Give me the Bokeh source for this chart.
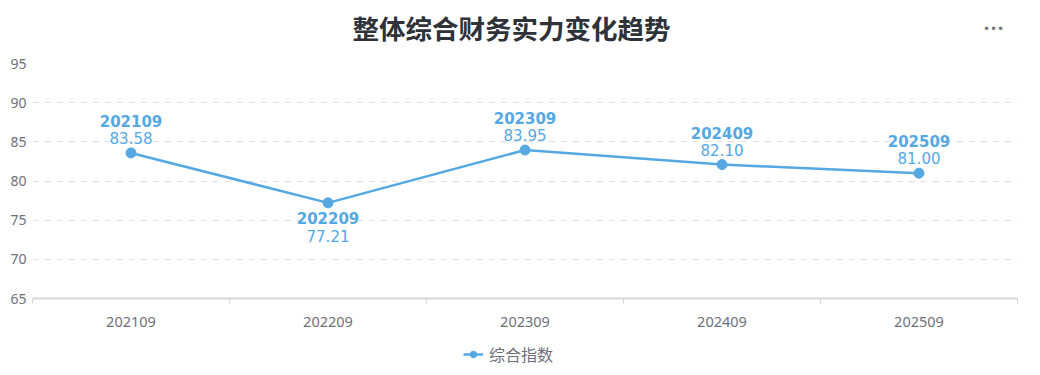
from bokeh.plotting import figure
from bokeh.layouts import column
from bokeh.models import (Range1d, FixedTicker, Label, Legend, LegendItem,
                          ColumnDataSource)
from bokeh.core.properties import value
from bokeh.embed import file_html
from bokeh.resources import INLINE

# ---- data ----
periods = ["202109", "202209", "202309", "202409", "202509"]
scores = [83.58, 77.21, 83.95, 82.10, 81.00]
y_ticks = [65, 70, 75, 80, 85, 90, 95]
title_text = "整体综合财务实力变化趋势"
series_name = "综合指数"

BLUE = "#55a8e2"
GRAY_TXT = "#6e7079"
W = 1032

xs = [i + 0.5 for i in range(len(periods))]
below = []
for i, v in enumerate(scores):
    left = scores[i - 1] if i > 0 else None
    right = scores[i + 1] if i < len(scores) - 1 else None
    below.append(left is not None and right is not None and v < left and v < right)

name_off = [15 if b else -32 for b in below]
val_off = [33 if b else -15 for b in below]

src = ColumnDataSource(dict(
    x=xs, y=scores, name=periods,
    val=["%.2f" % v for v in scores],
    name_off=name_off, val_off=val_off,
))

p = figure(width=W, height=338, output_backend="svg", toolbar_location=None,
           x_range=Range1d(0, len(periods)), y_range=Range1d(65, 95),
           min_border_left=32, min_border_right=W - 1017, min_border_top=63,
           min_border_bottom=40)
p.outline_line_color = None
p.background_fill_color = "white"
p.border_fill_color = "white"

p.title.text = title_text
p.title.align = "left"
p.title.offset = 320
p.title.text_font = "Noto Sans CJK SC"
p.title.text_font_style = "bold"
p.title.text_font_size = "26.5px"
p.title.text_color = "#2f3238"
p.title.standoff = 6

# axes
p.yaxis.ticker = FixedTicker(ticks=y_ticks)
p.yaxis.axis_line_color = None
p.yaxis.major_tick_line_color = None
p.yaxis.minor_tick_line_color = None
p.yaxis.major_label_text_color = GRAY_TXT
p.yaxis.major_label_text_font = "Noto Sans"
p.yaxis.major_label_text_font_size = "14px"
p.yaxis.major_label_standoff = 0

p.xaxis.ticker = FixedTicker(ticks=xs, minor_ticks=list(range(len(periods) + 1)))
p.xaxis.major_label_overrides = {x: n for x, n in zip(xs, periods)}
p.xaxis.axis_line_color = "#d8d8d8"
p.xaxis.axis_line_width = 2
p.xaxis.major_tick_line_color = None
p.xaxis.minor_tick_line_color = "#d8d8d8"
p.xaxis.minor_tick_out = 5
p.xaxis.minor_tick_in = 0
p.xaxis.major_label_text_color = GRAY_TXT
p.xaxis.major_label_text_font = "Noto Sans"
p.xaxis.major_label_text_font_size = "14.5px"
p.xaxis.major_label_standoff = 12

p.xgrid.grid_line_color = None
p.ygrid.grid_line_color = "#e0e0e0"
p.ygrid.grid_line_dash = "6 6"
p.ygrid.grid_line_width = 1

# series
ln = p.line("x", "y", source=src, line_color=BLUE, line_width=2.5)
sc = p.scatter("x", "y", source=src, size=10, fill_color=BLUE, line_color=BLUE)

p.text("x", "y", text="name", source=src, y_offset="name_off",
       text_align="center", text_baseline="middle",
       text_font=value("DejaVu Sans"), text_font_style="bold",
       text_font_size="15px", text_color=BLUE)
p.text("x", "y", text="val", source=src, y_offset="val_off",
       text_align="center", text_baseline="middle",
       text_font=value("DejaVu Sans"),
       text_font_size="15px", text_color=BLUE)

# menu dots in the top panel
p.add_layout(Label(x=961, y=35, x_units="screen", y_units="screen",
                   text="•••", text_align="center", text_baseline="middle",
                   text_font="DejaVu Sans", text_font_size="12px",
                   text_color="#777777"), "above")

# legend strip below the chart (same series, shown only as legend)
lf = figure(width=W, height=37, output_backend="svg", toolbar_location=None,
            x_range=Range1d(-10, -9), y_range=Range1d(-10, -9),
            x_axis_location=None, y_axis_location=None,
            min_border=0)
lf.outline_line_color = None
lf.xgrid.visible = False
lf.ygrid.visible = False
lln = lf.line("x", "y", source=src, line_color=BLUE, line_width=2.5)
lsc = lf.scatter("x", "y", source=src, size=10, fill_color=BLUE, line_color=BLUE)
legend = Legend(items=[LegendItem(label=series_name, renderers=[lln, lsc])],
                orientation="horizontal", location=(431, 9),
                border_line_color=None, background_fill_alpha=0,
                label_text_color=GRAY_TXT, label_text_font="Noto Sans CJK SC",
                label_text_font_size="16px", glyph_width=20, glyph_height=16,
                label_height=16, label_standoff=6, padding=0, margin=0)
lf.add_layout(legend, "center")

open("out.html", "w").write(file_html(column(p, lf), INLINE))
